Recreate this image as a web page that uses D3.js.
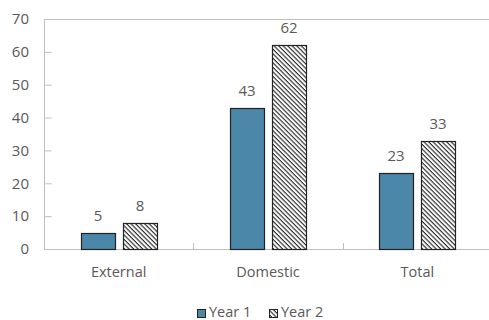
<!DOCTYPE html>
<html>
<head>
<meta charset="utf-8">
<script src="https://cdn.jsdelivr.net/npm/d3@7"></script>
<style>
  html, body { margin: 0; padding: 0; background: #fff; }
  svg text { font-family: "Open Sans", "Noto Sans", sans-serif; fill: #595959; }
</style>
</head>
<body>
<svg id="chart" width="489" height="320"></svg>
<script>
const categories = ["External", "Domestic", "Total"];
const seriesNames = ["Year 1", "Year 2"];
const year1 = [5, 43, 23];
const year2 = [8, 62, 33];
const yTicks = [0, 10, 20, 30, 40, 50, 60, 70];

const svg = d3.select("#chart");
const W = 489, H = 320;
const m = { left: 44, right: 0, top: 19, bottom: 71 };
const innerW = W - m.left - m.right;
const innerH = H - m.top - m.bottom;
const barW = 34, barGap = 8;

// diagonal hatch for the second series
const defs = svg.append("defs");
const pat = defs.append("pattern")
  .attr("id", "hatch")
  .attr("patternUnits", "userSpaceOnUse")
  .attr("width", 3.2).attr("height", 3.2)
  .attr("patternTransform", "rotate(45)");
pat.append("rect").attr("width", 3.2).attr("height", 3.2).attr("fill", "#fff");
pat.append("line").attr("x1", 0).attr("y1", 0.6).attr("x2", 3.2).attr("y2", 0.6)
  .attr("stroke", "#222").attr("stroke-width", 1.1);

const g = svg.append("g").attr("transform", `translate(${m.left},${m.top})`);

const x = d3.scaleBand().domain(categories).range([0, innerW + 3]);
const x1 = d3.scaleBand().domain(seriesNames)
  .range([0, barW * 2 + barGap]).paddingInner(barGap / (barW + barGap));
const y = d3.scaleLinear().domain([0, 70]).range([innerH, 0]);

// frame: top border, left and bottom axes
g.append("line").attr("x1", 0).attr("x2", innerW).attr("y1", 0.5).attr("y2", 0.5)
  .attr("stroke", "#bfbfbf");

const yAxis = d3.axisRight(y).tickValues(yTicks).tickSize(7).tickFormat("");
const ya = g.append("g").attr("transform", "translate(0.5,0)").call(yAxis);
ya.select(".domain").attr("stroke", "#bfbfbf").attr("d", `M0,0V${innerH}`);
ya.selectAll(".tick line").attr("stroke", "#bfbfbf");
ya.selectAll(".tick").filter(d => d === 0 || d === 70).select("line").remove();

g.selectAll(".ylab").data(yTicks).join("text")
  .attr("class", "ylab")
  .attr("x", -15).attr("y", d => y(d)).attr("dy", "0.35em")
  .attr("text-anchor", "end").attr("font-size", 15)
  .text(d => d);

const xa = g.append("g").attr("transform", `translate(0,${innerH + 0.5})`)
  .call(d3.axisTop(x).tickSize(0).tickFormat(""));
xa.select(".domain").attr("stroke", "#bfbfbf").attr("d", `M0,0H${innerW}`);
xa.selectAll(".tick").remove();
// boundary ticks between categories
g.selectAll(".xtick").data(categories.slice(1)).join("line")
  .attr("class", "xtick")
  .attr("x1", d => Math.round(x(d)) + 0.5).attr("x2", d => Math.round(x(d)) + 0.5)
  .attr("y1", innerH - 6).attr("y2", innerH)
  .attr("stroke", "#bfbfbf");

g.selectAll(".xlab").data(categories).join("text")
  .attr("class", "xlab")
  .attr("x", d => x(d) + x.bandwidth() / 2)
  .attr("y", innerH + 28)
  .attr("text-anchor", "middle").attr("font-size", 14.5)
  .text(d => d);

const rows = categories.map((c, i) => ({ c, vals: [
  { s: "Year 1", v: year1[i] }, { s: "Year 2", v: year2[i] }] }));

const groupW = barW * 2 + barGap;
const groups = g.selectAll(".grp").data(rows).join("g")
  .attr("transform", d => `translate(${Math.round(x(d.c) + x.bandwidth() / 2 - groupW / 2)},0)`);

groups.selectAll("rect").data(d => d.vals).join("rect")
  .attr("x", d => x1(d.s) + 0.5)
  .attr("y", d => Math.round(y(d.v)) + 0.5)
  .attr("width", x1.bandwidth())
  .attr("height", d => innerH - Math.round(y(d.v)))
  .attr("fill", d => d.s === "Year 1" ? "#4a87a9" : "url(#hatch)")
  .attr("stroke", "#222").attr("stroke-width", 1.2);

groups.selectAll(".val").data(d => d.vals).join("text")
  .attr("class", "val")
  .attr("x", d => x1(d.s) + x1.bandwidth() / 2)
  .attr("y", d => y(d.v) - 12)
  .attr("text-anchor", "middle").attr("font-size", 15)
  .text(d => d.v);

// legend
const leg = svg.append("g").attr("transform", "translate(197,309)");
const items = leg.selectAll("g").data(seriesNames).join("g")
  .attr("transform", (d, i) => `translate(${i * 72},0)`);
items.append("rect").attr("x", 0.5).attr("y", 0.5).attr("width", 8).attr("height", 8)
  .attr("fill", d => d === "Year 1" ? "#4a87a9" : "url(#hatch)")
  .attr("stroke", "#222");
items.append("text").attr("x", 12).attr("y", 8)
  .attr("font-size", 14.5).text(d => d);
</script>
</body>
</html>
